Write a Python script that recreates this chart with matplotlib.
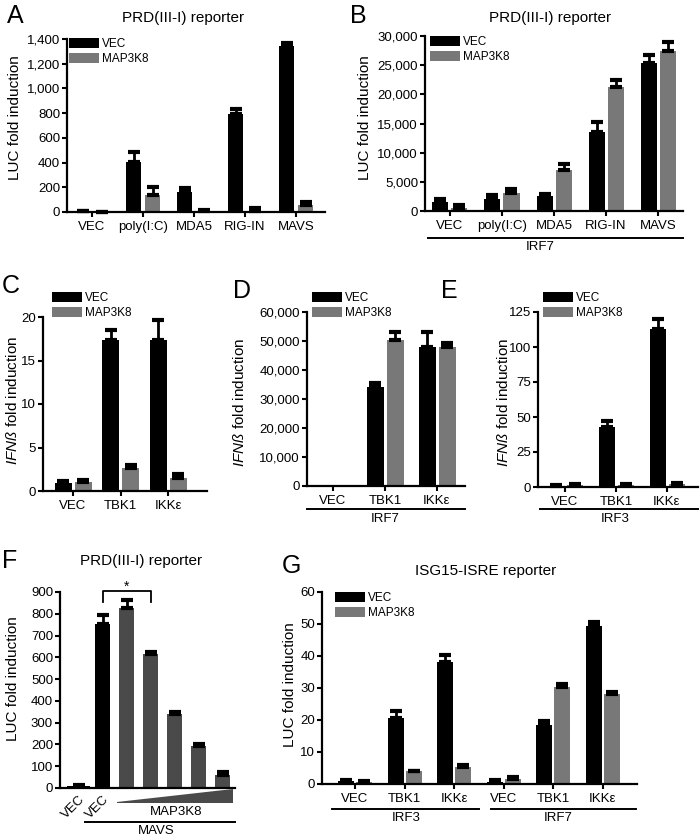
import matplotlib
matplotlib.use('Agg')
import matplotlib.pyplot as plt
import numpy as np
from matplotlib.patches import Patch, Polygon
from matplotlib.lines import Line2D

plt.rcParams['font.family'] = ['Liberation Sans', 'DejaVu Sans']
plt.rcParams['mathtext.fontset'] = 'custom'
plt.rcParams['mathtext.it'] = 'Liberation Sans:italic'
plt.rcParams['mathtext.rm'] = 'Liberation Sans'

W, H = 700, 839
BLACK = '#000000'
GRAY = '#787878'
DGRAY = '#4a4a4a'

# ---------------- data ----------------
series_names = ['VEC', 'MAP3K8']

a_cats = ['VEC', 'poly(I:C)', 'MDA5', 'RIG-IN', 'MAVS']
a_vec = [5, 405, 165, 790, 1340]
a_vec_err = [3, 80, 30, 45, 25]
a_map = [2, 140, 8, 12, 60]
a_map_err = [1, 65, 5, 18, 20]

b_cats = ['VEC', 'poly(I:C)', 'MDA5', 'RIG-IN', 'MAVS']
b_vec = [1500, 2000, 2500, 13500, 25300]
b_vec_err = [500, 700, 500, 1700, 1400]
b_map = [600, 3100, 7000, 21200, 27500]
b_map_err = [400, 600, 1000, 1300, 1400]

c_cats = ['VEC', 'TBK1', 'IKKε']
c_vec = [0.9, 17.3, 17.3]
c_vec_err = [0.2, 1.2, 2.4]
c_map = [1.0, 2.7, 1.5]
c_map_err = [0.3, 0.3, 0.4]

d_cats = ['VEC', 'TBK1', 'IKKε']
d_vec = [0, 34000, 48000]
d_vec_err = [0, 1500, 5200]
d_map = [0, 50500, 48000]
d_map_err = [0, 2500, 1200]

e_cats = ['VEC', 'TBK1', 'IKKε']
e_vec = [1.0, 43, 113]
e_vec_err = [0.3, 4, 7]
e_map = [1.5, 1.5, 2.0]
e_map_err = [0.5, 0.5, 1.2]

f_labels = ['VEC', 'VEC']
f_vals = [10, 755, 828, 617, 338, 192, 60]
f_err = [2, 40, 35, 8, 10, 12, 12]
f_colors = [BLACK, BLACK, DGRAY, DGRAY, DGRAY, DGRAY, DGRAY]

g_cats = ['VEC', 'TBK1', 'IKKε', 'VEC', 'TBK1', 'IKKε']
g_vec = [0.8, 20.7, 38, 0.7, 18.5, 49.5]
g_vec_err = [0.5, 2.2, 2.2, 0.5, 1.2, 1.2]
g_map = [0.6, 4.2, 5.2, 1.6, 30.3, 28.0]
g_map_err = [0.4, 0.0, 0.8, 0.6, 0.8, 0.6]

# ---------------- layout helpers ----------------
fig = plt.figure(figsize=(7.0, 8.39), dpi=100)

TICK_FS = 9.5
LAB_FS = 11
TITLE_FS = 11
LEG_FS = 8.5


def fx(px):
    return px / W


def fy(py):
    return 1 - py / H


def make_ax(L, R, T, B, c0, s):
    ax = fig.add_axes([L / W, 1 - B / H, (R - L) / W, (B - T) / H])
    ax.set_xlim((L - c0) / s, (R - c0) / s)
    for sp in ['top', 'right']:
        ax.spines[sp].set_visible(False)
    for sp in ['left', 'bottom']:
        ax.spines[sp].set_linewidth(1.6)
    ax.tick_params(axis='both', direction='out', width=1.5, length=3.5,
                   labelsize=TICK_FS, pad=1.5)
    ax.tick_params(axis='x', pad=3)
    return ax


def ylabel(ax, text, box, cx, cy):
    L, R, T, B = box
    ax.set_ylabel(text, fontsize=LAB_FS)
    ax.yaxis.set_label_coords((cx - L) / (R - L), (B - cy) / (B - T))
    ax.yaxis.label.set_va('center')


def errs(ax, x, v, e, cs):
    x = np.asarray(x, float)
    v = np.asarray(v, float)
    e = np.asarray(e, float)
    m = v > 0
    ax.errorbar(x[m], v[m], yerr=[np.zeros(m.sum()), e[m]], fmt='none',
                ecolor='black', elinewidth=2.0, capsize=cs, capthick=3.0,
                clip_on=False, zorder=3)


def grouped(ax, cats, v1, e1, v2, e2, s, wpx, opx, cs=4.5):
    x = np.arange(len(cats))
    w = wpx / s
    o = opx / s
    ax.bar(x - o, v1, w, color=BLACK, zorder=2)
    ax.bar(x + o, v2, w, color=GRAY, zorder=2)
    errs(ax, x - o, v1, e1, cs)
    errs(ax, x + o, v2, e2, cs)
    ax.set_xticks(x)
    ax.set_xticklabels(cats, fontsize=TICK_FS)


def legend(px, py):
    handles = [Patch(facecolor=BLACK, edgecolor='none'),
               Patch(facecolor=GRAY, edgecolor='none')]
    fig.legend(handles, series_names, loc='upper left',
               bbox_to_anchor=(fx(px), fy(py)), bbox_transform=fig.transFigure,
               frameon=False, fontsize=LEG_FS, borderpad=0, borderaxespad=0,
               handlelength=2.5, handleheight=0.85, labelspacing=0.25,
               handletextpad=0.3)


def underline(x0, x1, y, label, lx, ly):
    fig.add_artist(Line2D([fx(x0), fx(x1)], [fy(y), fy(y)],
                          transform=fig.transFigure, color='black', lw=1.4))
    fig.text(fx(lx), fy(ly), label, ha='center', va='center', fontsize=TICK_FS)


def letter(ch, x, y):
    fig.text(fx(x), fy(y), ch, ha='left', va='baseline', fontsize=18)


def title(text, x, y):
    fig.text(fx(x), fy(y), text, ha='center', va='center', fontsize=TITLE_FS)


def yfmt(ax, ticks, comma=False):
    ax.set_ylim(0, ticks[-1])
    ax.set_yticks(ticks)
    if comma:
        ax.set_yticklabels([f'{t:,}' for t in ticks])
    else:
        ax.set_yticklabels([str(t) for t in ticks])


IFN = r'$\mathit{IFNß}$ fold induction'

# ---------------- Panel A ----------------
boxA = (67, 325, 39, 212)
axA = make_ax(*boxA, c0=92, s=51)
grouped(axA, a_cats, a_vec, a_vec_err, a_map, a_map_err, 51, 15, 9.5)
yfmt(axA, list(range(0, 1401, 200)), comma=True)
ylabel(axA, 'LUC fold induction', boxA, 15, 118)
legend(69, 38)
title('PRD(III-I) reporter', 183, 18)
letter('A', 7, 23)

# ---------------- Panel B ----------------
boxB = (425, 683, 36, 211)
axB = make_ax(*boxB, c0=450, s=52)
grouped(axB, b_cats, b_vec, b_vec_err, b_map, b_map_err, 52, 16, 9.5)
yfmt(axB, list(range(0, 30001, 5000)), comma=True)
ylabel(axB, 'LUC fold induction', boxB, 365, 118)
legend(430, 36)
title('PRD(III-I) reporter', 550, 18)
letter('B', 350, 23)
underline(428, 683, 238, 'IRF7', 540, 247)

# ---------------- Panel C ----------------
boxC = (43, 207, 317, 491)
axC = make_ax(*boxC, c0=73, s=47.5)
grouped(axC, c_cats, c_vec, c_vec_err, c_map, c_map_err, 47.5, 17, 10)
yfmt(axC, [0, 5, 10, 15, 20])
ylabel(axC, IFN, boxC, 13, 400)
legend(52, 292)
letter('C', 2, 293)

# ---------------- Panel D ----------------
boxD = (307, 465, 312, 486)
axD = make_ax(*boxD, c0=333, s=52)
grouped(axD, d_cats, d_vec, d_vec_err, d_map, d_map_err, 52, 17, 10)
yfmt(axD, list(range(0, 60001, 10000)), comma=True)
ylabel(axD, IFN, boxD, 240, 402)
legend(312, 292)
letter('D', 233, 298)
underline(307, 465, 509, 'IRF7', 385, 519)

# ---------------- Panel E ----------------
boxE = (538, 698, 312, 487)
axE = make_ax(*boxE, c0=565, s=51)
grouped(axE, e_cats, e_vec, e_vec_err, e_map, e_map_err, 51, 16, 9.5)
yfmt(axE, [0, 25, 50, 75, 100, 125])
ylabel(axE, IFN, boxE, 503, 402)
legend(543, 292)
letter('E', 441, 298)
underline(540, 698, 509, 'IRF3', 615, 519)

# ---------------- Panel F ----------------
boxF = (60, 235, 592, 788)
sF = 24
axF = make_ax(*boxF, c0=78.5, s=sF)
xF = np.arange(len(f_vals))
wF = [23 / sF] + [15 / sF] * (len(f_vals) - 1)
axF.bar(xF, f_vals, wF, color=f_colors, zorder=2)
errs(axF, xF, f_vals, f_err, 4.5)
yfmt(axF, list(range(0, 901, 100)))
axF.set_xticks(xF[:2])
axF.set_xticklabels(f_labels, rotation=45, ha='right', rotation_mode='anchor',
                    fontsize=TICK_FS)
axF.tick_params(axis='x', length=0, pad=4)
ylabel(axF, 'LUC fold induction', boxF, 13, 679)
title('PRD(III-I) reporter', 141, 561)
letter('F', 2, 568)
# significance bracket between bar 1 and bar 3
axF.plot([xF[1], xF[1], xF[3], xF[3]], [855, 905, 905, 855], color='black',
         lw=1.3, clip_on=False)
axF.text((xF[1] + xF[3]) / 2, 925, '*', ha='center', va='center', fontsize=10)
# increasing MAP3K8 wedge
fig.add_artist(Polygon([(fx(117), fy(803)), (fx(117), fy(802)),
                        (fx(233), fy(789)), (fx(233), fy(803))],
                       closed=True, transform=fig.transFigure,
                       facecolor=DGRAY, edgecolor='none'))
fig.text(fx(176), fy(812), 'MAP3K8', ha='center', va='center', fontsize=TICK_FS)
underline(85, 235, 822, 'MAVS', 156, 831)

# ---------------- Panel G ----------------
boxG = (322, 637, 592, 784)
axG = make_ax(*boxG, c0=355, s=49.5)
grouped(axG, g_cats, g_vec, g_vec_err, g_map, g_map_err, 49.5, 16, 9)
yfmt(axG, [0, 10, 20, 30, 40, 50, 60])
ylabel(axG, 'LUC fold induction', boxG, 290, 685)
legend(335, 592)
title('ISG15-ISRE reporter', 486, 571)
letter('G', 282, 573)
underline(332, 479, 809, 'IRF3', 406, 818)
underline(491, 636, 809, 'IRF7', 558, 818)

fig.savefig('out.png', dpi=100)
